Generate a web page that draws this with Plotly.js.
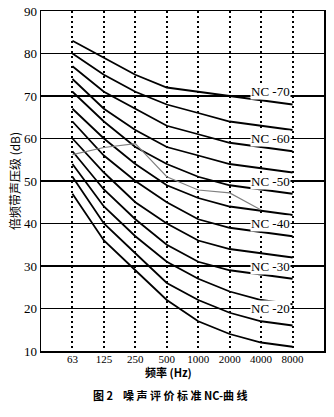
<!DOCTYPE html>
<html><head><meta charset="utf-8">
<script src="https://cdn.plot.ly/plotly-3.0.1.min.js"></script>
<style>body{margin:0;background:#fff}#c{width:334px;height:417px}</style>
</head><body><div id="c"></div>
<script>
const freqs = ["63","125","250","500","1000","2000","4000","8000"];
const nc15 = [47,36,29,22,17,14,12,11];
const nc20 = [51,40,33,26,22,19,17,16];
const nc25 = [54,44,37,31,27,24,22,21];
const nc30 = [57,48,41,35,31,29,28,27];
const nc35 = [60,52,45,40,36,34,33,32];
const nc40 = [64,56,50,45,41,39,38,37];
const nc45 = [67,60,54,49,46,44,43,42];
const nc50 = [71,64,58,54,51,49,48,47];
const nc55 = [74,67,62,58,56,54,53,52];
const nc60 = [77,71,67,63,61,59,58,57];
const nc65 = [80,75,71,68,66,64,63,62];
const nc70 = [83,79,75,72,71,70,69,68];
const measuredFreqs = ["63","125","250","500","1000","2000","4000"];
const measured = [56.2,57.9,58.8,51,47.9,47.2,43.2];
const labelNames = ["NC -70","NC -60","NC -50","NC -40","NC -30","NC -20"];
const labelLevels = [71,60,50,40,30,20];

const curves = [nc15,nc20,nc25,nc30,nc35,nc40,nc45,nc50,nc55,nc60,nc65,nc70];
const traces = curves.map(v => ({
  x: freqs, y: v, type:'scatter', mode:'lines',
  line:{color:'#000', width:1.8}, hoverinfo:'skip', showlegend:false
}));
traces.push({x: measuredFreqs, y: measured, type:'scatter', mode:'lines',
  line:{color:'#808080', width:1.1}, showlegend:false});

const serif = 'Liberation Serif';
const cjk = 'Noto Sans CJK SC';
const annotations = labelNames.map((t,i) => ({
  x: 7, y: labelLevels[i], xref:'x', yref:'y', text: t, showarrow:false,
  xanchor:'right', yanchor:'middle', xshift:-2, bgcolor:'#fff', borderpad:0,
  font:{family: serif, size:13, color:'#000'}
}));
annotations.push({x:0.452, y:-0.062, xref:'paper', yref:'paper', text:'<b>频率 (Hz)</b>',
  showarrow:false, xanchor:'center', yanchor:'middle', font:{family:cjk, size:11, color:'#000'}});
annotations.push({x:0.456, y:-0.128, xref:'paper', yref:'paper', text:'<b>图 2    噪 声 评 价 标 准 NC-曲 线</b>',
  showarrow:false, xanchor:'center', yanchor:'middle', font:{family:cjk, size:11, color:'#000'}});

const layout = {
  width:334, height:417,
  margin:{l:41, r:10, t:11, b:66},
  paper_bgcolor:'#fff', plot_bgcolor:'#fff',
  xaxis:{type:'category', range:[-1,8], showgrid:true, gridcolor:'#000', gridwidth:2,
    griddash:'2px,3px', showline:true, mirror:true, linecolor:'#000', linewidth:1.5,
    ticks:'', ticklabelstandoff:-3, tickfont:{family:serif, size:11, color:'#000'}, zeroline:false, fixedrange:true},
  yaxis:{range:[10,90], dtick:10, tick0:10, showgrid:true, gridcolor:'#000', gridwidth:1.5,
    showline:true, mirror:true, linecolor:'#000', linewidth:1.5, ticks:'', zeroline:false,
    tickfont:{family:serif, size:13, color:'#000'},
    title:{text:'倍频带声压级 (dB)', font:{family:cjk, size:12, color:'#000'}, standoff:0}},
  annotations: annotations,
  showlegend:false
};
Plotly.newPlot('c', traces, layout, {displayModeBar:false, staticPlot:true});
</script></body></html>
